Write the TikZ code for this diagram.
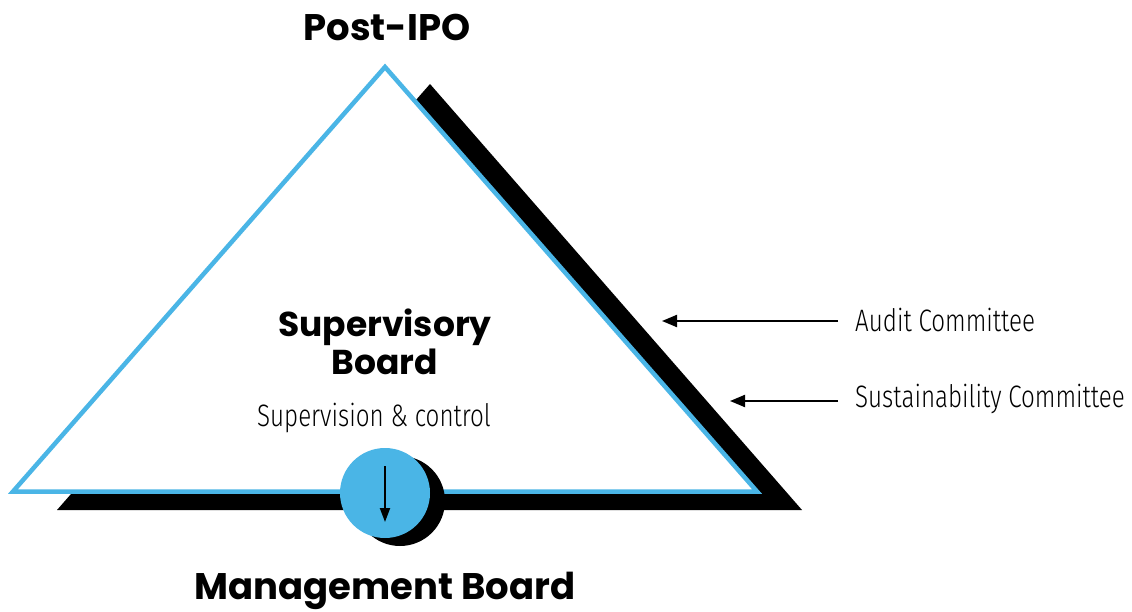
\documentclass[tikz,border=0pt]{standalone}
\usepackage{graphicx}
\usepackage{fontspec}
\setmainfont{Poppins}
\newfontfamily\thinfont{Fira Sans Light}
\usetikzlibrary{arrows.meta}
\definecolor{boardblue}{RGB}{74,181,230}
% squeezed light lettering
\newcommand{\narrow}[1]{\scalebox{0.78}[1]{#1}}

\begin{document}
\begin{tikzpicture}[x=1pt, y=-1pt,
title/.style={font=\fontsize{37}{40}\selectfont\bfseries},
board/.style={font=\fontsize{34.5}{38}\selectfont\bfseries, align=center},
note/.style={font=\thinfont\fontsize{31}{34}\selectfont, inner sep=0pt},
pointer/.style={-{Triangle[length=15pt,width=12pt]}, line width=2pt},
shadow/.style={fill=black}]

\useasboundingbox (0,0) rectangle (1132,612);

%%%%%%%%%%%%%%%%%%%%%%%%%%%%%%
\coordinate (apex) at (385,67);
\coordinate (left) at (13,491.5);
\coordinate (right) at (757,491.5);
\coordinate (shApex) at (430,84);
\coordinate (shLeft) at (57,510);
\coordinate (shRight) at (802,510);

\fill [shadow] (shApex) -- (shLeft) -- (shRight) -- cycle;
\draw [boardblue, line width=4.5pt, fill=white, line join=miter]
  (apex) -- (left) -- (right) -- cycle;

%%%%%%%%%%%%%%%%%%%%%%%%%%%%%%
\fill [shadow] (400,501) circle (45);
\node [circle, fill=boardblue, minimum size=90pt, inner sep=0pt] (disc) at (385,493) {};
\coordinate (discTop) at (385,466);
\coordinate (discBottom) at (385,522);
\draw [pointer, -{Triangle[length=14pt,width=10pt]}] (discTop) -- (discBottom);

%%%%%%%%%%%%%%%%%%%%%%%%%%%%%%
\node [title] (postIPO) at (387,27) {Post-IPO};
\node [board] (superBoard) at (385,342) {Supervisory\\Board};
\node [note] (superNote) at (374,418) {\narrow{Supervision \& control}};
\node [title] (manBoard) at (385,591) {Management Board};

%%%%%%%%%%%%%%%%%%%%%%%%%%%%%%
\node [note, anchor=west] (audit) at (855,320) {\narrow{Audit Committee}};
\node [note, anchor=west] (sustain) at (855,399) {\narrow{Sustainability Committee}};
\coordinate (auditEnd) at (662,321);
\coordinate (sustainEnd) at (730,401);
\draw [pointer] (audit.west |- auditEnd) ++(-17,0) -- (auditEnd);
\draw [pointer] (sustain.west |- sustainEnd) ++(-17,0) -- (sustainEnd);

\end{tikzpicture}
\end{document}
